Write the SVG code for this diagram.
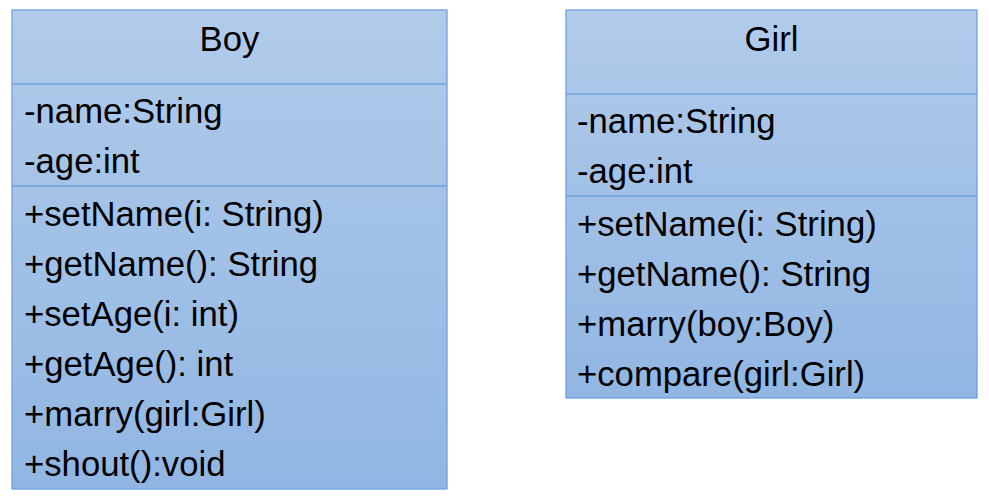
<svg xmlns="http://www.w3.org/2000/svg" width="989" height="501" viewBox="0 0 989 501">
<defs>
<linearGradient id="g" x1="0" y1="0" x2="0" y2="1">
<stop offset="0" stop-color="#b1cbea"/>
<stop offset="1" stop-color="#91b6e3"/>
</linearGradient>
</defs>
<style>
.box{fill:url(#g);stroke:#6fa2dc;stroke-width:1.3}
.div{stroke:#6fa2dc;stroke-width:1.3}
text{font-family:"Liberation Sans",Arial,sans-serif;font-size:34.7px;fill:#000}
.t{text-anchor:middle}
</style>
<rect width="989" height="501" fill="#fff"/>
<g id="boy">
<rect class="box" x="12" y="10" width="435" height="479"/>
<line class="div" x1="12" y1="84" x2="447" y2="84"/>
<line class="div" x1="12" y1="186" x2="447" y2="186"/>
<text class="t" x="229.5" y="51">Boy</text>
<text x="24" y="123">-name:String</text>
<text x="24" y="173">-age:int</text>
<text x="24" y="226">+setName(i: String)</text>
<text x="24" y="276">+getName(): String</text>
<text x="24" y="326">+setAge(i: int)</text>
<text x="24" y="376">+getAge(): int</text>
<text x="24" y="426">+marry(girl:Girl)</text>
<text x="24" y="476">+shout():void</text>
</g>
<g id="girl">
<rect class="box" x="566" y="10" width="411" height="388"/>
<line class="div" x1="566" y1="94" x2="977" y2="94"/>
<line class="div" x1="566" y1="196" x2="977" y2="196"/>
<text class="t" x="771.5" y="51">Girl</text>
<text x="577" y="133">-name:String</text>
<text x="577" y="183">-age:int</text>
<text x="577" y="236">+setName(i: String)</text>
<text x="577" y="286">+getName(): String</text>
<text x="577" y="336">+marry(boy:Boy)</text>
<text x="577" y="386">+compare(girl:Girl)</text>
</g>
<g id="connectors"></g>
</svg>
